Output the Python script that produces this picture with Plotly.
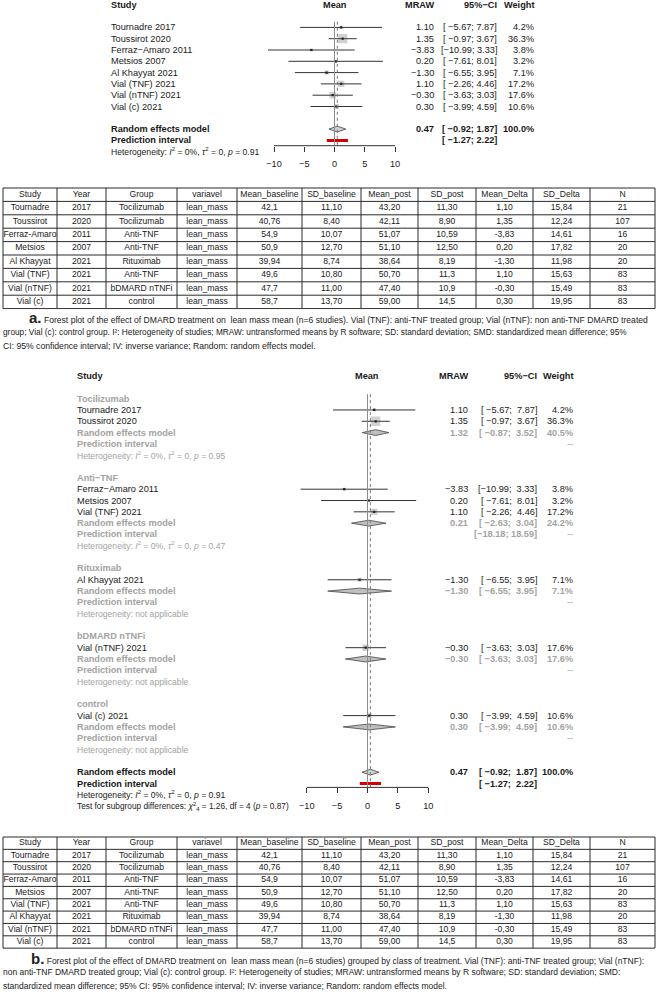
import math
import plotly.graph_objects as go

W, H = 660, 992
FONT = "Liberation Sans, Arial, Helvetica, sans-serif"
BLACK = "#1a1a1a"
GREY = "#a3a3a3"
MINUS = "\u2212"
NBSP = "\u00a0"

# ---------------- forest-plot data ----------------
studies = ["Tournadre 2017", "Toussirot 2020", "Ferraz" + MINUS + "Amaro 2011", "Metsios 2007",
           "Al Khayyat 2021", "Vial (TNF) 2021", "Vial (nTNF) 2021", "Vial (c) 2021"]
mraw = [1.10, 1.35, -3.83, 0.20, -1.30, 1.10, -0.30, 0.30]
ci_low = [-5.67, -0.97, -10.99, -7.61, -6.55, -2.26, -3.63, -3.99]
ci_high = [7.87, 3.67, 3.33, 8.01, 3.95, 4.46, 3.03, 4.59]
weight = [4.2, 36.3, 3.8, 3.2, 7.1, 17.2, 17.6, 10.6]
study_group = [0, 0, 1, 1, 2, 1, 3, 4]

overall_est, overall_low, overall_high, overall_w = 0.47, -0.92, 1.87, 100.0
pred_low, pred_high = -1.27, 2.22
overall_i2, overall_tau2, overall_p = 0, 0, 0.91

groups = ["Tocilizumab", "Anti" + MINUS + "TNF", "Rituximab", "bDMARD nTNFi", "control"]
group_est = [1.32, 0.21, -1.30, -0.30, 0.30]
group_low = [-0.87, -2.63, -6.55, -3.63, -3.99]
group_high = [3.52, 3.04, 3.95, 3.03, 4.59]
group_w = [40.5, 24.2, 7.1, 17.6, 10.6]
group_pred_low = [None, -18.18, None, None, None]
group_pred_high = [None, 18.59, None, None, None]
group_het_p = [0.95, 0.47, None, None, None]
subgroup_chi2, subgroup_df, subgroup_p = 1.26, 4, 0.87

x_ticks = [-10, -5, 0, 5, 10]

# ---------------- table data ----------------
tbl_columns = ["Study", "Year", "Group", "variavel", "Mean_baseline", "SD_baseline",
               "Mean_post", "SD_post", "Mean_Delta", "SD_Delta", "N"]
tbl_study = ["Tournadre", "Toussirot", "Ferraz-Amaro", "Metsios", "Al Khayyat",
             "Vial (TNF)", "Vial (nTNF)", "Vial (c)"]
tbl_year = ["2017", "2020", "2011", "2007", "2021", "2021", "2021", "2021"]
tbl_group = ["Tocilizumab", "Tocilizumab", "Anti-TNF", "Anti-TNF", "Rituximab",
             "Anti-TNF", "bDMARD nTNFi", "control"]
tbl_variavel = ["lean_mass"] * 8
tbl_mean_baseline = ["42,1", "40,76", "54,9", "50,9", "39,94", "49,6", "47,7", "58,7"]
tbl_sd_baseline = ["11,10", "8,40", "10,07", "12,70", "8,74", "10,80", "11,00", "13,70"]
tbl_mean_post = ["43,20", "42,11", "51,07", "51,10", "38,64", "50,70", "47,40", "59,00"]
tbl_sd_post = ["11,30", "8,90", "10,59", "12,50", "8,19", "11,3", "10,9", "14,5"]
tbl_mean_delta = ["1,10", "1,35", "-3,83", "0,20", "-1,30", "1,10", "-0,30", "0,30"]
tbl_sd_delta = ["15,84", "12,24", "14,61", "17,82", "11,98", "15,63", "15,49", "19,95"]
tbl_n = ["21", "107", "16", "20", "20", "83", "83", "83"]
tbl_order_a = [0, 1, 2, 3, 4, 5, 6, 7]
tbl_order_b = [0, 1, 2, 3, 5, 4, 6, 7]

caption_a = [
    "<span style='font-size:15px'><b>a.</b></span> Forest plot of the effect of DMARD treatment on" + NBSP + " lean mass mean (n=6 studies). Vial (TNF): anti-TNF treated group; Vial (nTNF): non anti-TNF DMARD treated",
    "group; Vial (c): control group. I\u00b2: Heterogeneity of studies; MRAW: untransformed means by R software; SD: standard deviation; SMD: standardized mean difference; 95%",
    "CI: 95% confidence interval; IV: inverse variance; Random: random effects model.",
]
caption_b = [
    "<span style='font-size:15px'><b>b.</b></span> Forest plot of the effect of DMARD treatment on" + NBSP + " lean mass mean (n=6 studies) grouped by class of treatment. Vial (TNF): anti-TNF treated group; Vial (nTNF):",
    "non anti-TNF DMARD treated group; Vial (c): control group. I\u00b2: Heterogeneity of studies; MRAW: untransformed means by R software; SD: standard deviation; SMD:",
    "standardized mean difference; 95% CI: 95% confidence interval; IV: inverse variance; Random: random effects model.",
]

# ---------------- layout / style constants (pixels) ----------------
PANEL_A = dict(row0=4.8, pitch=11.3, zero=334.5, ppu=6.05, xmin=-12, xmax=12, top=0,
               axis_y=145.7, label_x=111, mraw_r=434, ci_r=497, w_r=534, hi_w=4, vline_k=1.5,
               standoff=4)
PANEL_B = dict(row0=376, pitch=11.32, zero=367.5, ppu=6.08, xmin=-12, xmax=12, top=365,
               axis_y=787.4, label_x=77, mraw_r=468.3, ci_r=537.3, w_r=573.3, hi_w=5, vline_k=1.6,
               standoff=5)
FS = 9.2
FS_TBL = 8.6
FS_HET = 8.6
FS_TEST = 8.3
FS_CAP_A = [8.6, 8.3, 8.65]
FS_CAP_B = [8.5, 8.5, 8.5]
BOX = 1.55
DIAMOND_H = 0.26
TBL_LEFT = 3
TBL_WIDTHS = [54, 49, 71, 60, 65, 59, 57, 58, 57, 57, 65]
TBL_A = dict(top=188, pitch=13.4)
TBL_B = dict(top=837, pitch=12.35)
CAP_A_Y = [317, 331.5, 346]
CAP_B_Y = [958, 972, 985.5]
CAP_X1 = [29, 31]

ann = []
shapes = []
fig = go.Figure()


def put(x, y, s, anchor="left", size=FS, color=BLACK, bold=False):
    if bold:
        s = "<b>" + s + "</b>"
    ann.append(dict(x=x / W, y=1 - y / H, xref="paper", yref="paper", text=s, showarrow=False,
                    xanchor=anchor, yanchor="middle", borderpad=0, borderwidth=0,
                    font=dict(family=FONT, size=size, color=color)))


def fnum(v):
    return f"{v:.2f}".replace("-", MINUS)


def fci(lo, hi, hi_w):
    a = f"{lo:>6.2f}".replace("-", MINUS).replace(" ", NBSP)
    b = f"{hi:>{hi_w}.2f}".replace("-", MINUS).replace(" ", NBSP)
    return "[" + a + ";" + NBSP + b + "]"


def fw(w):
    return f"{w:.1f}%"


def het_text(i2, tau2, p):
    return ("Heterogeneity: <i>I</i><sup>2</sup> = %d%%, <i>\u03c4</i><sup>2</sup> = %d, <i>p</i> = %.2f"
            % (i2, tau2, p))


def diamond(lo, est, hi, k, xa, ya, fill):
    fig.add_trace(go.Scatter(x=[lo, est, hi, est, lo], y=[k, k - DIAMOND_H, k, k + DIAMOND_H, k],
                             mode="lines", fill="toself", fillcolor=fill,
                             line=dict(color="#444444", width=0.8),
                             xaxis=xa, yaxis=ya, hoverinfo="skip", showlegend=False))


def panel(cfg, spec, n):
    xa = "x" if n == 1 else "x%d" % n
    ya = "y" if n == 1 else "y%d" % n
    ypx = lambda k: cfg["row0"] + k * cfg["pitch"]
    xpx = lambda v: cfg["zero"] + v * cfg["ppu"]
    LX, MR, CR, WR = cfg["label_x"], cfg["mraw_r"], cfg["ci_r"], cfg["w_r"]
    bx, by, bs, lx, ly = [], [], [], [], []
    for k, kind, idx in spec:
        y = ypx(k)
        if kind == "header":
            put(LX, y, "Study", bold=True)
            put(xpx(0), y, "Mean", anchor="center", bold=True)
            put(MR, y, "MRAW", anchor="right", bold=True)
            put(CR, y, "95%" + MINUS + "CI", anchor="right", bold=True)
            put(WR, y, "Weight", anchor="right", bold=True)
        elif kind == "group":
            put(LX, y, groups[idx], color=GREY, bold=True)
        elif kind == "study":
            put(LX, y, studies[idx])
            put(MR, y, fnum(mraw[idx]), anchor="right")
            put(CR, y, fci(ci_low[idx], ci_high[idx], cfg["hi_w"]), anchor="right")
            put(WR, y, fw(weight[idx]), anchor="right")
            bx.append(mraw[idx]); by.append(k); bs.append(BOX * math.sqrt(weight[idx]))
            lx += [ci_low[idx], ci_high[idx], None]; ly += [k, k, None]
        elif kind == "re_sub":
            put(LX, y, "Random effects model", color=GREY, bold=True)
            put(MR, y, fnum(group_est[idx]), anchor="right", color=GREY, bold=True)
            put(CR, y, fci(group_low[idx], group_high[idx], cfg["hi_w"]), anchor="right", color=GREY, bold=True)
            put(WR, y, fw(group_w[idx]), anchor="right", color=GREY, bold=True)
            diamond(group_low[idx], group_est[idx], group_high[idx], k, xa, ya, "#bfbfbf")
        elif kind == "pi_sub":
            put(LX, y, "Prediction interval", color=GREY, bold=True)
            if group_pred_low[idx] is not None:
                put(CR, y, fci(group_pred_low[idx], group_pred_high[idx], cfg["hi_w"]),
                    anchor="right", color=GREY, bold=True)
            put(WR, y, "--", anchor="right", color=GREY)
        elif kind == "het_sub":
            if group_het_p[idx] is None:
                put(LX, y, "Heterogeneity: not applicable", size=FS_HET, color=GREY)
            else:
                put(LX, y, het_text(0, 0, group_het_p[idx]), size=FS_HET, color=GREY)
        elif kind == "re_all":
            put(LX, y, "Random effects model", bold=True)
            put(MR, y, fnum(overall_est), anchor="right", bold=True)
            put(CR, y, fci(overall_low, overall_high, cfg["hi_w"]), anchor="right", bold=True)
            put(WR, y, fw(overall_w), anchor="right", bold=True)
            diamond(overall_low, overall_est, overall_high, k, xa, ya, "#cfcfcf")
        elif kind == "pi_all":
            put(LX, y, "Prediction interval", bold=True)
            put(CR, y, fci(pred_low, pred_high, cfg["hi_w"]), anchor="right", bold=True)
            fig.add_trace(go.Scatter(x=[pred_low, pred_high], y=[k, k], mode="lines",
                                     line=dict(color="#d40000", width=3),
                                     xaxis=xa, yaxis=ya, hoverinfo="skip", showlegend=False))
        elif kind == "het_all":
            put(LX, y, het_text(overall_i2, overall_tau2, overall_p), size=FS_HET)
        elif kind == "test":
            put(LX, y, "Test for subgroup differences: <i>\u03c7</i><sup>2</sup><sub>%d</sub> = %.2f, df = %d (<i>p</i> = %.2f)"
                % (subgroup_df, subgroup_chi2, subgroup_df, subgroup_p), size=FS_TEST)
    # study boxes, CI lines, point estimates
    fig.add_trace(go.Scatter(x=bx, y=by, mode="markers",
                             marker=dict(symbol="square", size=bs, color="#bdbdbd", line=dict(width=0)),
                             xaxis=xa, yaxis=ya, hoverinfo="skip", showlegend=False))
    fig.add_trace(go.Scatter(x=lx, y=ly, mode="lines", line=dict(color="#333333", width=1),
                             xaxis=xa, yaxis=ya, hoverinfo="skip", showlegend=False))
    fig.add_trace(go.Scatter(x=bx, y=by, mode="markers",
                             marker=dict(symbol="square", size=2.2, color="#222222", line=dict(width=0)),
                             xaxis=xa, yaxis=ya, hoverinfo="skip", showlegend=False))
    k_bot = (cfg["axis_y"] - cfg["row0"]) / cfg["pitch"]
    k_top = (cfg["top"] - cfg["row0"]) / cfg["pitch"]
    shapes.append(dict(type="line", xref=xa, yref=ya, x0=0, x1=0, y0=cfg["vline_k"], y1=k_bot,
                       line=dict(color="#8c8c8c", width=1)))
    shapes.append(dict(type="line", xref=xa, yref=ya, x0=overall_est, x1=overall_est,
                       y0=cfg["vline_k"], y1=k_bot, line=dict(color="#777777", width=1, dash="dot")))
    shapes.append(dict(type="line", xref=xa, yref=ya + " domain", x0=x_ticks[0], x1=x_ticks[-1],
                       y0=0, y1=0, line=dict(color="#333333", width=1)))
    xd = [(cfg["zero"] + cfg["xmin"] * cfg["ppu"]) / W, (cfg["zero"] + cfg["xmax"] * cfg["ppu"]) / W]
    yd = [1 - cfg["axis_y"] / H, 1 - cfg["top"] / H]
    key = "" if n == 1 else str(n)
    fig.update_layout(**{
        "xaxis" + key: dict(domain=xd, range=[cfg["xmin"], cfg["xmax"]], anchor=ya,
                            tickvals=x_ticks, ticktext=[str(t).replace("-", MINUS) for t in x_ticks],
                            ticks="outside", ticklen=5, tickwidth=1, tickcolor="#333333",
                            ticklabelstandoff=cfg["standoff"],
                            tickfont=dict(family=FONT, size=FS, color=BLACK),
                            showline=False, showgrid=False, zeroline=False, fixedrange=True),
        "yaxis" + key: dict(domain=yd, range=[k_bot, k_top], anchor=xa, visible=False,
                            showgrid=False, zeroline=False, fixedrange=True),
    })


# ---- panel a rows
spec_a = [(0, "header", None)]
for i in range(len(studies)):
    spec_a.append((2 + i, "study", i))
spec_a += [(11, "re_all", None), (12, "pi_all", None), (13, "het_all", None)]
panel(PANEL_A, spec_a, 1)

# ---- panel b rows
spec_b = [(0, "header", None)]
k = 2
for g in range(len(groups)):
    spec_b.append((k, "group", g)); k += 1
    for i in range(len(studies)):
        if study_group[i] == g:
            spec_b.append((k, "study", i)); k += 1
    spec_b += [(k, "re_sub", g), (k + 1, "pi_sub", g), (k + 2, "het_sub", g)]
    k += 4
spec_b += [(k, "re_all", None), (k + 1, "pi_all", None), (k + 2, "het_all", None), (k + 3, "test", None)]
panel(PANEL_B, spec_b, 2)


# ---------------- tables ----------------
def table(cfg, order, n):
    xa, ya = "x%d" % n, "y%d" % n
    top, pitch = cfg["top"], cfg["pitch"]
    total = sum(TBL_WIDTHS)
    borders = [0]
    for w_ in TBL_WIDTHS:
        borders.append(borders[-1] + w_)
    centers = [(borders[i] + borders[i + 1]) / 2 for i in range(len(TBL_WIDTHS))]
    nrows = len(order) + 1
    cols = [tbl_study, tbl_year, tbl_group, tbl_variavel, tbl_mean_baseline, tbl_sd_baseline,
            tbl_mean_post, tbl_sd_post, tbl_mean_delta, tbl_sd_delta, tbl_n]
    tx, ty, tt = [], [], []
    for c, name in enumerate(tbl_columns):
        tx.append(centers[c]); ty.append(0.5); tt.append(name)
    for r, si in enumerate(order):
        for c in range(len(cols)):
            tx.append(centers[c]); ty.append(r + 1.5); tt.append(cols[c][si])
    gx, gy = [], []
    for r in range(nrows + 1):
        gx += [0, total, None]; gy += [r, r, None]
    for b in borders:
        gx += [b, b, None]; gy += [0, nrows, None]
    fig.add_trace(go.Scatter(x=gx, y=gy, mode="lines", line=dict(color="#2a2a2a", width=1),
                             xaxis=xa, yaxis=ya, hoverinfo="skip", showlegend=False))
    fig.add_trace(go.Scatter(x=tx, y=ty, mode="text", text=tt, textposition="middle center",
                             textfont=dict(family=FONT, size=FS_TBL, color=BLACK),
                             xaxis=xa, yaxis=ya, hoverinfo="skip", showlegend=False))
    pad = 1.0
    bottom = top + nrows * pitch
    fig.update_layout(**{
        "xaxis%d" % n: dict(domain=[(TBL_LEFT - pad) / W, (TBL_LEFT + total + pad) / W],
                            range=[-pad, total + pad], anchor=ya, visible=False, fixedrange=True),
        "yaxis%d" % n: dict(domain=[1 - (bottom + pad) / H, 1 - (top - pad) / H],
                            range=[nrows + pad / pitch, -pad / pitch], anchor=xa,
                            visible=False, fixedrange=True),
    })


table(TBL_A, tbl_order_a, 3)
table(TBL_B, tbl_order_b, 4)

# ---------------- captions ----------------
for i, line in enumerate(caption_a):
    put(CAP_X1[0] if i == 0 else 3, CAP_A_Y[i], line, size=FS_CAP_A[i], color="#222222")
for i, line in enumerate(caption_b):
    put(CAP_X1[1] if i == 0 else 3, CAP_B_Y[i], line, size=FS_CAP_B[i], color="#222222")

fig.update_layout(width=W, height=H, margin=dict(l=0, r=0, t=0, b=0),
                  paper_bgcolor="white", plot_bgcolor="rgba(0,0,0,0)",
                  showlegend=False, annotations=ann, shapes=shapes,
                  font=dict(family=FONT, size=FS, color=BLACK))
fig.write_html("out.html", config={"displayModeBar": False},
               post_script="document.body.style.margin='0px';")
